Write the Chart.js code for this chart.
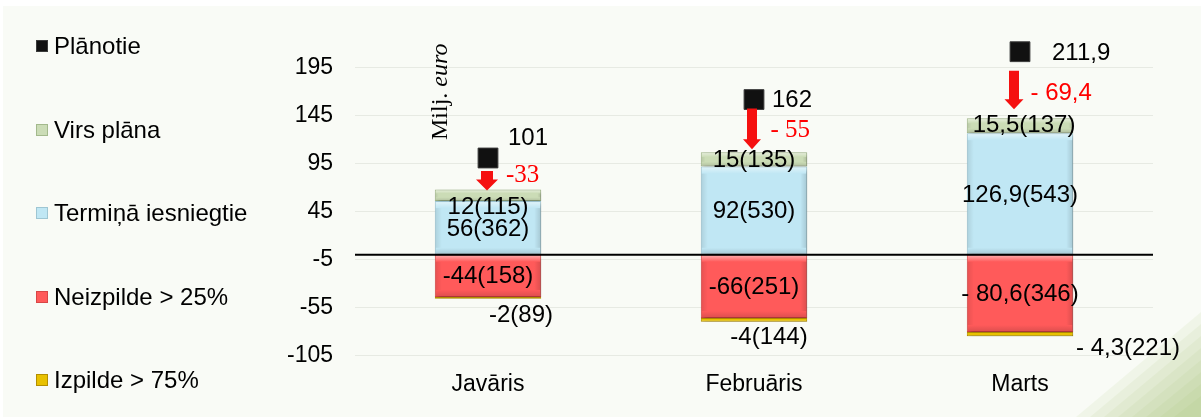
<!DOCTYPE html>
<html><head><meta charset="utf-8">
<script src="https://cdn.jsdelivr.net/npm/chart.js@4.4.1/dist/chart.umd.min.js"></script>
<style>html,body{margin:0;padding:0;background:#fff;}#wrap{width:1201px;height:417px;position:relative;}</style>
</head><body><div id="wrap"><canvas id="c" width="1201" height="417"></canvas></div>
<script>
// ---- data ----
const categories = ['Javāris', 'Februāris', 'Marts'];
const planotie = [101, 162, 211.9];
const virsPlana = [12, 15, 15.5];
const virsPlanaSkaits = [115, 135, 137];
const terminaIesniegtie = [56, 92, 126.9];
const terminaSkaits = [362, 530, 543];
const neizpilde = [-44, -66, -80.6];
const neizpildeSkaits = [158, 251, 346];
const izpilde = [-2, -4, -4.3];
const izpildeSkaits = [89, 144, 221];
const novirze = [-33, -55, -69.4];
const yTicks = [-105, -55, -5, 45, 95, 145, 195];
const seriesNames = ['Plānotie', 'Virs plāna', 'Termiņā iesniegtie', 'Neizpilde > 25%', 'Izpilde > 75%'];

// ---- style / layout ----
const SANS = '"Liberation Sans", Arial, sans-serif';
const SERIF = '"Liberation Serif", "Times New Roman", serif';
const COL = {
  plan: '#111111', planBorder: '#3a3a3a',
  green: '#cbdcb6', greenB: '#a3b98c',
  blue: '#c0e7f4', blueB: '#9ec6d3',
  red: '#ff5a5a', redB: '#d84646',
  yellow: '#e8c100', yellowB: '#b38f00',
  arrow: '#f51010'
};
const L = {
  minusSep: ['', '', ' '],
  devSep: ['', ' ', ' '],
  devFont: ['25px ' + SERIF, '25px ' + SERIF, '24px ' + SANS],
  greenDy: [12, 1, 0], greenDx: [0, 0, 4],
  yellowDx: [33, 15, 108], yellowDy: [17, 16, 12],
  planDx: [20, 18, 32], planDy: [-19.5, 1, 2],
  devDx: [18, 16.5, 10.5], devDy: [17.5, 31, 42],
  arrowDx: [-1, -2, -6], arrowStart: [13, 9, 19], arrowEndGap: [-1, 3, 9],
  arrowShaft: [12, 10, 10], arrowHead: [22, 18, 19], arrowHeadLen: [11, 10, 10],
  legendY: [46, 130, 213, 297, 380]
};
const fmt = (v, sep) => {
  const s = Math.abs(v).toString().replace('.', ',');
  return v < 0 ? '-' + sep + s : s;
};

function drawArrow(ctx, x, y1, y2, sw, hw, hl) {
  ctx.beginPath();
  ctx.moveTo(x - sw / 2, y1);
  ctx.lineTo(x + sw / 2, y1);
  ctx.lineTo(x + sw / 2, y2 - hl);
  ctx.lineTo(x + hw / 2, y2 - hl);
  ctx.lineTo(x, y2);
  ctx.lineTo(x - hw / 2, y2 - hl);
  ctx.lineTo(x - sw / 2, y2 - hl);
  ctx.closePath();
  ctx.fill();
}

function bevel(ctx, el) {
  const x0 = el.x - el.width / 2, x1 = el.x + el.width / 2;
  const yt = Math.min(el.y, el.base), yb = Math.max(el.y, el.base);
  const h = yb - yt;
  if (h < 8) return;
  const e = Math.min(7, h / 3);
  ctx.save();
  let g = ctx.createLinearGradient(0, yt, 0, yt + e);
  g.addColorStop(0, 'rgba(255,255,255,0.55)'); g.addColorStop(1, 'rgba(255,255,255,0)');
  ctx.fillStyle = g; ctx.fillRect(x0 + 1, yt + 1, x1 - x0 - 2, e);
  g = ctx.createLinearGradient(x0, 0, x0 + e, 0);
  g.addColorStop(0, 'rgba(0,0,0,0.10)'); g.addColorStop(1, 'rgba(0,0,0,0)');
  ctx.fillStyle = g; ctx.fillRect(x0 + 1, yt + e, e, h - 2 * e);
  g = ctx.createLinearGradient(x1, 0, x1 - e, 0);
  g.addColorStop(0, 'rgba(0,0,0,0.14)'); g.addColorStop(1, 'rgba(0,0,0,0)');
  ctx.fillStyle = g; ctx.fillRect(x1 - 1 - e, yt + e, e, h - 2 * e);
  g = ctx.createLinearGradient(0, yb, 0, yb - e);
  g.addColorStop(0, 'rgba(0,0,0,0.14)'); g.addColorStop(1, 'rgba(0,0,0,0)');
  ctx.fillStyle = g; ctx.fillRect(x0 + 1, yb - 1 - e, x1 - x0 - 2, e);
  ctx.restore();
}

const decor = {
  id: 'decor',
  beforeDraw(chart) {
    const ctx = chart.ctx;
    ctx.save();
    ctx.fillStyle = '#ffffff'; ctx.fillRect(0, 0, chart.width, chart.height);
    ctx.fillStyle = '#f9fbf6'; ctx.fillRect(3, 6, chart.width - 3, chart.height - 6);
    const W = chart.width, H = chart.height;
    for (let k = 0; k < 8; k++) {
      const a = 125 - k * 14, b = 105 - k * 12;
      ctx.fillStyle = 'rgba(150,185,95,0.09)';
      ctx.beginPath();
      ctx.moveTo(W - a, H); ctx.lineTo(W, H - b); ctx.lineTo(W, H); ctx.closePath();
      ctx.fill();
    }
    ctx.restore();
  },
  beforeDatasetDraw(chart, args) {
    if (args.meta.type === 'bar') {
      const ctx = chart.ctx;
      ctx.save();
      ctx.shadowColor = 'rgba(0,0,0,0.28)';
      ctx.shadowBlur = 4; ctx.shadowOffsetX = 2; ctx.shadowOffsetY = 2;
    }
  },
  afterDatasetDraw(chart, args) {
    if (args.meta.type === 'bar') {
      chart.ctx.restore();
      args.meta.data.forEach(el => bevel(chart.ctx, el));
    }
  },
  afterDatasetsDraw(chart) {
    const ctx = chart.ctx, ys = chart.scales.y, area = chart.chartArea;
    ctx.save();
    const y0 = ys.getPixelForValue(0);
    ctx.strokeStyle = '#000'; ctx.lineWidth = 2;
    ctx.beginPath(); ctx.moveTo(area.left, y0); ctx.lineTo(area.right, y0); ctx.stroke();

    const mBlue = chart.getDatasetMeta(0).data, mGreen = chart.getDatasetMeta(1).data,
          mRed = chart.getDatasetMeta(2).data, mYel = chart.getDatasetMeta(3).data,
          mPlan = chart.getDatasetMeta(4).data;
    ctx.textBaseline = 'middle';
    for (let i = 0; i < categories.length; i++) {
      const bb = mBlue[i], bg = mGreen[i], br = mRed[i], by = mYel[i], p = mPlan[i];
      const cx = bb.x;
      ctx.fillStyle = COL.arrow;
      drawArrow(ctx, cx + L.arrowDx[i], p.y + L.arrowStart[i], bg.y - L.arrowEndGap[i],
        L.arrowShaft[i], L.arrowHead[i], L.arrowHeadLen[i]);
      ctx.fillStyle = '#000';
      ctx.font = '24px ' + SANS;
      ctx.textAlign = 'center';
      ctx.fillText(fmt(virsPlana[i], L.minusSep[i]) + '(' + virsPlanaSkaits[i] + ')',
        cx + L.greenDx[i], (bg.y + bg.base) / 2 + L.greenDy[i]);
      ctx.fillText(fmt(terminaIesniegtie[i], L.minusSep[i]) + '(' + terminaSkaits[i] + ')',
        cx, (bb.y + bb.base) / 2 + 1);
      ctx.fillText(fmt(neizpilde[i], L.minusSep[i]) + '(' + neizpildeSkaits[i] + ')',
        cx, (br.y + br.base) / 2 + 1);
      ctx.fillText(fmt(izpilde[i], L.minusSep[i]) + '(' + izpildeSkaits[i] + ')',
        cx + L.yellowDx[i], Math.max(by.y, by.base) + L.yellowDy[i]);
      ctx.textAlign = 'left';
      ctx.fillText(planotie[i].toString().replace('.', ','), cx + L.planDx[i], p.y + L.planDy[i]);
      ctx.fillStyle = '#ff0000';
      ctx.font = L.devFont[i];
      ctx.fillText(fmt(novirze[i], L.devSep[i]), cx + L.devDx[i], p.y + L.devDy[i]);
    }

    ctx.save();
    ctx.translate(441, 140);
    ctx.rotate(-Math.PI / 2);
    ctx.fillStyle = '#000';
    ctx.textAlign = 'left';
    ctx.font = '24px ' + SERIF;
    const t1 = 'Milj. ';
    ctx.fillText(t1, 0, 0);
    const w1 = ctx.measureText(t1).width;
    ctx.font = 'italic 24px ' + SERIF;
    ctx.fillText('euro', w1, 0);
    ctx.restore();

    const legCols = [[COL.plan, COL.planBorder], [COL.green, COL.greenB], [COL.blue, COL.blueB], [COL.red, COL.redB], [COL.yellow, COL.yellowB]];
    ctx.font = '24px ' + SANS;
    ctx.textAlign = 'left';
    for (let k = 0; k < seriesNames.length; k++) {
      const yy = L.legendY[k];
      ctx.fillStyle = legCols[k][0];
      ctx.strokeStyle = legCols[k][1];
      ctx.lineWidth = 1;
      ctx.fillRect(36, yy - 6, 12, 12);
      ctx.strokeRect(36.5, yy - 5.5, 11, 11);
      ctx.fillStyle = '#000';
      ctx.fillText(seriesNames[k], 54, yy + 1);
    }
    ctx.restore();
  }
};

const barCommon = { barPercentage: 0.4, categoryPercentage: 1, borderWidth: 1, borderSkipped: false, order: 1, stack: 's' };
new Chart(document.getElementById('c'), {
  type: 'bar',
  data: {
    labels: categories,
    datasets: [
      Object.assign({ label: seriesNames[2], data: terminaIesniegtie, backgroundColor: COL.blue, borderColor: COL.blueB }, barCommon),
      Object.assign({ label: seriesNames[1], data: virsPlana, backgroundColor: COL.green, borderColor: COL.greenB }, barCommon),
      Object.assign({ label: seriesNames[3], data: neizpilde, backgroundColor: COL.red, borderColor: COL.redB }, barCommon),
      Object.assign({ label: seriesNames[4], data: izpilde, backgroundColor: COL.yellow, borderColor: COL.yellowB }, barCommon),
      { type: 'line', label: seriesNames[0], data: planotie, showLine: false, order: 0, stack: 'plan',
        pointStyle: 'rect', pointRadius: 14, pointHoverRadius: 14,
        backgroundColor: COL.plan, borderColor: COL.planBorder, borderWidth: 1 }
    ]
  },
  options: {
    responsive: false,
    animation: false,
    events: [],
    layout: { padding: { left: 280, right: 48, top: 20, bottom: 4 } },
    plugins: { legend: { display: false }, tooltip: { enabled: false } },
    scales: {
      x: {
        stacked: true,
        grid: { display: false, drawTicks: false },
        border: { display: false },
        afterFit: (s) => { s.paddingLeft = 0; s.paddingRight = 0; },
        ticks: { color: '#000', font: { family: SANS, size: 23 }, padding: 15 }
      },
      y: {
        stacked: true,
        min: -105, max: 245,
        afterBuildTicks: (s) => { s.ticks = yTicks.map(v => ({ value: v })); },
        afterFit: (s) => { s.width = 75; s.paddingTop = 0; s.paddingBottom = 0; },
        grid: { color: '#e7eae3', lineWidth: 1, drawTicks: false },
        border: { display: false },
        ticks: { color: '#000', font: { family: SANS, size: 23 }, padding: 22 }
      }
    }
  },
  plugins: [decor]
});
</script></body></html>
